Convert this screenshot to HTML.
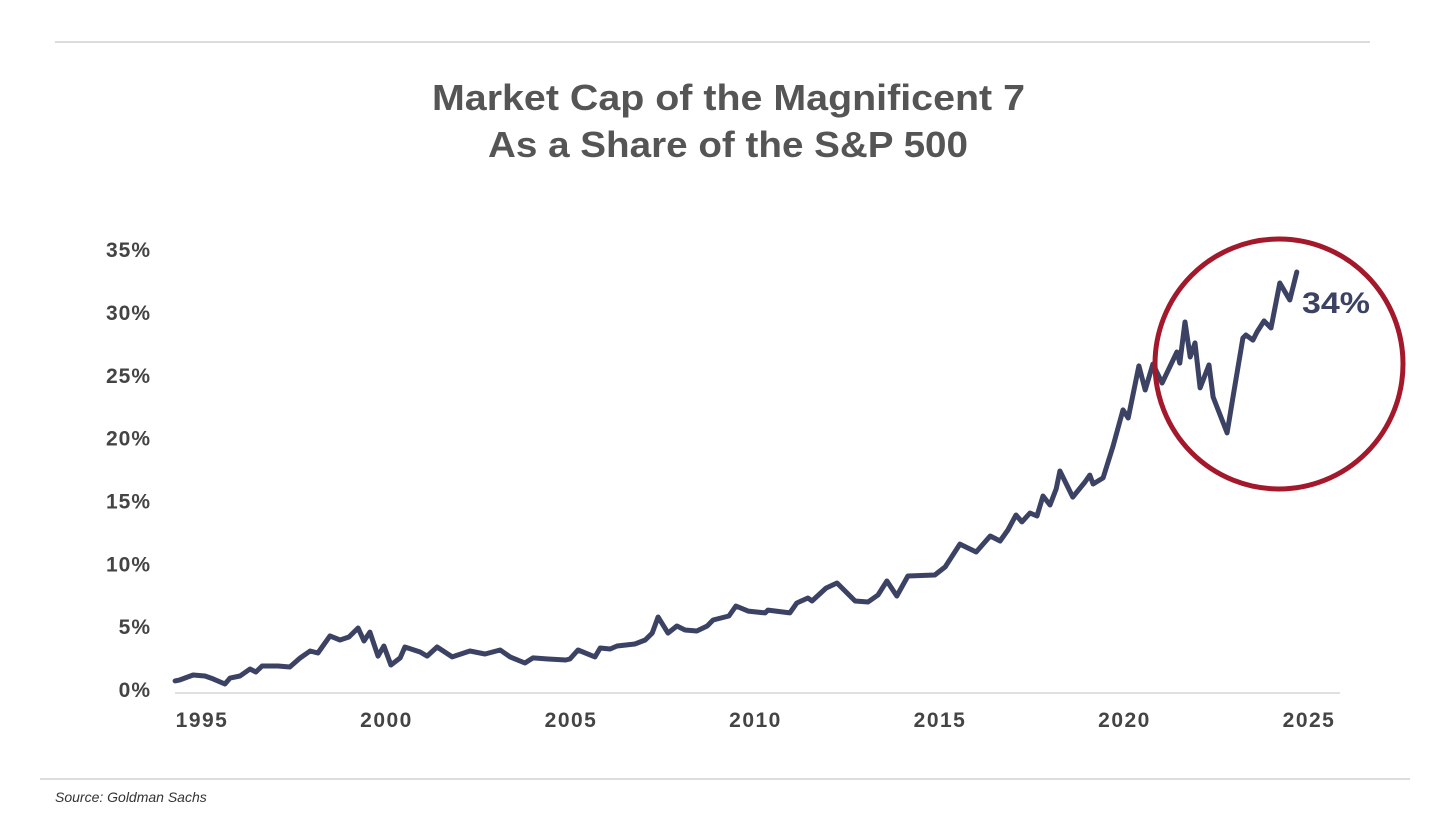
<!DOCTYPE html>
<html><head><meta charset="utf-8"><style>
body{margin:0;background:#fff;width:1456px;height:819px;overflow:hidden;font-family:"Liberation Sans",sans-serif}
</style></head><body>
<svg id="chart" width="1456" height="819" xmlns="http://www.w3.org/2000/svg">
<line x1="55" y1="42" x2="1370" y2="42" stroke="#d0d0d0" stroke-width="1.5"/>
<text x="432" y="110" textLength="593" lengthAdjust="spacingAndGlyphs" font-size="36" font-weight="bold" fill="#555">Market Cap of the Magnificent 7</text>
<text x="488" y="157" textLength="480" lengthAdjust="spacingAndGlyphs" font-size="36" font-weight="bold" fill="#555">As a Share of the S&amp;P 500</text>
<line x1="175" y1="693" x2="1340" y2="693" stroke="#d5d5d5" stroke-width="1.5"/>
<g id="yticks"></g>
<g id="xticks"></g>
<path id="line" fill="none" stroke="#3b4264" stroke-width="5" stroke-linejoin="round" stroke-linecap="round"/>
<ellipse cx="1279" cy="364" rx="124" ry="125" fill="none" stroke="#a3182b" stroke-width="5"/>
<text x="1302" y="313" textLength="68" lengthAdjust="spacingAndGlyphs" font-size="30" font-weight="bold" fill="#3b4264">34%</text>
<line x1="40" y1="779" x2="1410" y2="779" stroke="#d0d0d0" stroke-width="1.5"/>
<text x="55" y="802" font-size="14" font-style="italic" fill="#333">Source: Goldman Sachs</text>
</svg>
<script>
const years=[1994.27,1994.40,1994.76,1995.08,1995.30,1995.62,1995.76,1996.03,1996.30,1996.46,1996.63,1997.06,1997.38,1997.66,1997.93,1998.14,1998.47,1998.74,1998.98,1999.23,1999.39,1999.55,1999.77,1999.93,2000.12,2000.37,2000.50,2000.91,2001.10,2001.37,2001.78,2002.26,2002.67,2003.08,2003.35,2003.75,2003.97,2004.38,2004.86,2004.97,2005.19,2005.65,2005.79,2006.06,2006.25,2006.73,2007.01,2007.20,2007.36,2007.63,2007.87,2008.09,2008.41,2008.69,2008.85,2009.28,2009.47,2009.80,2010.26,2010.34,2010.93,2011.12,2011.42,2011.53,2011.91,2012.21,2012.70,2013.05,2013.32,2013.56,2013.83,2014.13,2014.86,2015.14,2015.54,2015.98,2016.36,2016.63,2016.84,2017.06,2017.22,2017.44,2017.63,2017.79,2017.98,2018.15,2018.25,2018.60,2018.93,2019.06,2019.15,2019.42,2019.69,2019.96,2020.10,2020.39,2020.56,2020.77,2021.02,2021.42,2021.50,2021.64,2021.78,2021.91,2022.05,2022.29,2022.40,2022.78,2022.94,2023.21,2023.29,2023.48,2023.59,2023.78,2023.97,2024.21,2024.48,2024.67];
const shares=[0.72,0.80,1.19,1.11,0.88,0.48,0.95,1.11,1.67,1.43,1.91,1.91,1.83,2.55,3.10,2.94,4.30,3.98,4.22,4.93,3.90,4.61,2.70,3.50,1.99,2.55,3.42,3.02,2.70,3.42,2.63,3.10,2.86,3.18,2.63,2.15,2.55,2.47,2.39,2.47,3.18,2.63,3.34,3.26,3.50,3.66,3.98,4.53,5.81,4.53,5.09,4.77,4.69,5.09,5.57,5.89,6.68,6.28,6.13,6.36,6.13,6.92,7.32,7.08,8.11,8.51,7.08,7.00,7.56,8.67,7.48,9.07,9.15,9.79,11.61,10.98,12.25,11.85,12.73,13.92,13.37,14.08,13.84,15.43,14.72,16.0,17.42,15.35,16.55,17.1,16.39,16.87,19.41,22.28,21.64,25.78,23.87,25.93,24.42,26.89,26.01,29.28,26.49,27.61,24.03,25.86,23.31,20.45,23.31,28.00,28.24,27.84,28.48,29.36,28.80,32.38,31.03,33.25];
const yTicks=[0,5,10,15,20,25,30,35];
const xTicks=[1995,2000,2005,2010,2015,2020,2025];
const NS="http://www.w3.org/2000/svg";
function xs(y){return 202+(y-1995)*36.9;}
function ys(v){return 690-v*12.57;}
const yg=document.getElementById('yticks');
yTicks.forEach(t=>{const e=document.createElementNS(NS,'text');


e.setAttribute('x',151);e.setAttribute('y',ys(t)+7);e.setAttribute('text-anchor','end');
e.setAttribute('font-size','21');e.setAttribute('font-weight','bold');e.setAttribute('fill','#444');
e.setAttribute('letter-spacing','1');
e.textContent=t+'%';yg.appendChild(e);});
const xg=document.getElementById('xticks');
xTicks.forEach(t=>{const e=document.createElementNS(NS,'text');


e.setAttribute('x',xs(t));e.setAttribute('y',727);e.setAttribute('text-anchor','middle');
e.setAttribute('font-size','21');e.setAttribute('font-weight','bold');e.setAttribute('fill','#444');
e.setAttribute('letter-spacing','1.5');
e.textContent=t;xg.appendChild(e);});
document.getElementById('line').setAttribute('d',years.map((y,i)=>(i?'L':'M')+xs(y).toFixed(1)+','+ys(shares[i]).toFixed(1)).join(''));
</script>
</body></html>
